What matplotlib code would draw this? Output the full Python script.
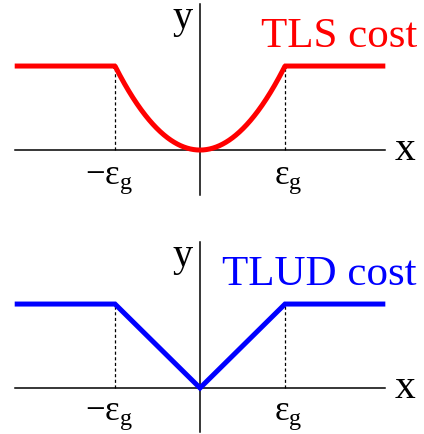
import numpy as np
import matplotlib as mpl
mpl.use("Agg")
import matplotlib.pyplot as plt

# ---------------------------------------------------------------- DATA
EPS_G = 1.0            # truncation threshold (x units)
COST_CAP = 1.0         # plateau height
X_END = 2.18           # half-length of the drawn x axis / curves
Y_AXIS = (-0.53, 1.74) # extent of the drawn y axis

tick_pos = [-EPS_G, EPS_G]
tick_labels = [r"$-\mathrm{\varepsilon}_{\mathrm{g}}$",
               r"$\mathrm{\varepsilon}_{\mathrm{g}}$"]

titles = ["TLS cost", "TLUD cost"]
colors = ["#FF0000", "#0000FF"]

# TLUD cost: piecewise linear breakpoints
tlud_x = [-X_END, -EPS_G, 0.0, EPS_G, X_END]
tlud_y = [COST_CAP, COST_CAP, 0.0, COST_CAP, COST_CAP]

# TLS cost: truncated quadratic  min(x^2, eps^2)
tls_x = np.linspace(-X_END, X_END, 801)
tls_y = np.minimum(tls_x ** 2, EPS_G ** 2) * COST_CAP / EPS_G ** 2

# ---------------------------------------------------------------- STYLE
mpl.rcParams.update({
    "font.family": "Liberation Serif",
    "mathtext.fontset": "custom",
    "mathtext.rm": "Liberation Serif",
    "mathtext.it": "Liberation Serif:italic",
    "mathtext.bf": "Liberation Serif:bold",
})

fig = plt.figure(figsize=(4.24, 4.35), dpi=100)

# each axes spans full width; limits chosen so 1 unit ~ 85 px in x, 84 px in y
XLIM = (-2.353, 2.635)
panels = [
    dict(rect=[0, 0.501, 1, 0.499], ylim=(-0.786, 1.798),
         x=tls_x, y=tls_y, tick_y=-0.34),
    dict(rect=[0, 0.0, 1, 0.501], ylim=(-0.548, 2.048),
         x=tlud_x, y=tlud_y, tick_y=-0.31),
]

for p, title, color in zip(panels, titles, colors):
    ax = fig.add_axes(p["rect"])
    ax.set_xlim(*XLIM)
    ax.set_ylim(*p["ylim"])
    ax.axis("off")

    # axes lines
    ax.plot([-X_END, X_END], [0, 0], color="black", lw=1.1, zorder=1)
    ax.plot([0, 0], list(Y_AXIS), color="black", lw=1.1, zorder=1)

    # dashed guides at +-eps
    for t in tick_pos:
        ax.plot([t, t], [0, COST_CAP], color="black", lw=0.9,
                dashes=(2.5, 2.0), zorder=1)

    # cost curve
    ax.plot(p["x"], p["y"], color=color, lw=3.6, zorder=3,
            solid_capstyle="butt", solid_joinstyle="miter")

    # tick labels
    ax.text(tick_pos[0] - 0.07, p["tick_y"], tick_labels[0], fontsize=25,
            ha="center", va="center")
    ax.text(tick_pos[1] + 0.04, p["tick_y"], tick_labels[1], fontsize=25,
            ha="center", va="center")

    # axis names
    ax.text(2.41, -0.11, "x", fontsize=30, ha="center", va="baseline")
    ax.text(-0.21, 1.46, "y", fontsize=29, ha="center", va="baseline")

    # title
    ax.text(2.55, 1.24, title, fontsize=31, color=color,
            ha="right", va="baseline")

fig.savefig("out.png", dpi=100)
